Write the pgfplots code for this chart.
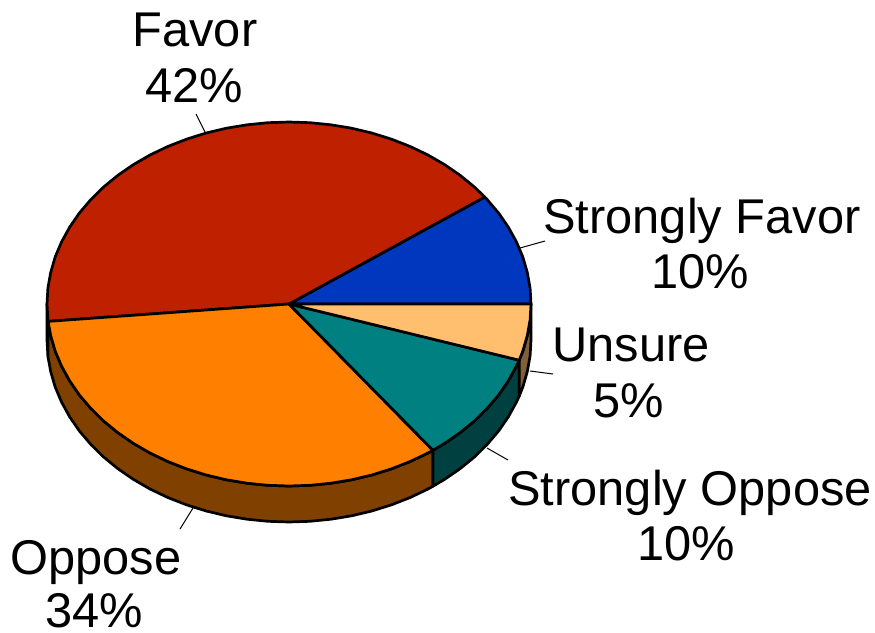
\documentclass[border=0pt]{standalone}
\usepackage{pgfplots}
\pgfplotsset{compat=1.18}
\usepackage{fontspec}
\setmainfont{Liberation Sans}
\definecolor{cBlue}{HTML}{0037BF}
\definecolor{cRed}{HTML}{BF2000}
\definecolor{cOrange}{HTML}{FF8000}
\definecolor{cTeal}{HTML}{008080}
\definecolor{cPeach}{HTML}{FFBF6F}
\definecolor{dBrown}{HTML}{804000}
\definecolor{dTeal}{HTML}{004040}
\definecolor{dPeach}{HTML}{806038}
\definecolor{dRed}{HTML}{601000}
\newcommand{\lab}[3]{\node[anchor=base,inner sep=0pt,font=\fontsize{48.8}{56}\selectfont] at (axis cs:#1,#2) {#3};}
\begin{document}
\begin{tikzpicture}
\begin{axis}[
  hide axis, scale only axis, width=875pt, height=632pt,
  xmin=0, xmax=875, ymin=0, ymax=632, y dir=reverse, clip=false,
  every axis plot/.append style={line width=2.7pt, line join=round, mark=none, draw=black}
]
\path (axis cs:0,0) rectangle (axis cs:875,632);
% side walls
\addplot[fill=dRed] coordinates {(47,304)(47.9,319.9)(48.1,321.4)(48.1,357.4)(47.9,355.9)(47,340)} -- cycle;
\addplot[fill=dBrown] coordinates {(48.1,321.4)(50.7,335.6)(55.2,351.1)(61.6,366.2)(69.7,380.9)(79.4,395)(90.8,408.4)(103.6,421)(117.9,432.7)(133.4,443.4)(150.2,453.1)(168,461.6)(186.7,468.9)(206.2,475)(226.4,479.8)(247,483.2)(267.9,485.3)(289,486)(310.1,485.3)(331,483.2)(351.6,479.8)(371.8,475)(391.3,468.9)(410,461.6)(427.8,453.1)(432.9,450.3)(432.9,486.3)(427.8,489.1)(410,497.6)(391.3,504.9)(371.8,511)(351.6,515.8)(331,519.2)(310.1,521.3)(289,522)(267.9,521.3)(247,519.2)(226.4,515.8)(206.2,511)(186.7,504.9)(168,497.6)(150.2,489.1)(133.4,479.4)(117.9,468.7)(103.6,457)(90.8,444.4)(79.4,431)(69.7,416.9)(61.6,402.2)(55.2,387.1)(50.7,371.6)(48.1,357.4)} -- cycle;
\addplot[fill=dTeal] coordinates {(432.9,450.3)(444.6,443.4)(460.1,432.7)(474.4,421)(487.2,408.4)(498.6,395)(508.3,380.9)(516.4,366.2)(519.2,360.2)(519.2,396.2)(516.4,402.2)(508.3,416.9)(498.6,431)(487.2,444.4)(474.4,457)(460.1,468.7)(444.6,479.4)(432.9,486.3)} -- cycle;
\addplot[fill=dPeach] coordinates {(519.2,360.2)(522.8,351.1)(527.3,335.6)(530.1,319.9)(531,304)(531,340)(530.1,355.9)(527.3,371.6)(522.8,387.1)(519.2,396.2)} -- cycle;
% top faces
\addplot[fill=cBlue] coordinates {(289,304)(531,304)(530.1,288.1)(527.3,272.4)(522.8,256.9)(516.4,241.8)(508.3,227.1)(498.6,213)(487.2,199.6)(484.8,197)} -- cycle;
\addplot[fill=cRed] coordinates {(289,304)(484.8,197)(474.4,187)(460.1,175.3)(444.6,164.6)(427.8,154.9)(410,146.4)(391.3,139.1)(371.8,133)(351.6,128.2)(331,124.8)(310.1,122.7)(289,122)(267.9,122.7)(247,124.8)(226.4,128.2)(206.2,133)(186.7,139.1)(168,146.4)(150.2,154.9)(133.4,164.6)(117.9,175.3)(103.6,187)(90.8,199.6)(79.4,213)(69.7,227.1)(61.6,241.8)(55.2,256.9)(50.7,272.4)(47.9,288.1)(47,304)(47.9,319.9)(48.1,321.4)} -- cycle;
\addplot[fill=cOrange] coordinates {(289,304)(48.1,321.4)(50.7,335.6)(55.2,351.1)(61.6,366.2)(69.7,380.9)(79.4,395)(90.8,408.4)(103.6,421)(117.9,432.7)(133.4,443.4)(150.2,453.1)(168,461.6)(186.7,468.9)(206.2,475)(226.4,479.8)(247,483.2)(267.9,485.3)(289,486)(310.1,485.3)(331,483.2)(351.6,479.8)(371.8,475)(391.3,468.9)(410,461.6)(427.8,453.1)(432.9,450.3)} -- cycle;
\addplot[fill=cTeal] coordinates {(289,304)(432.9,450.3)(444.6,443.4)(460.1,432.7)(474.4,421)(487.2,408.4)(498.6,395)(508.3,380.9)(516.4,366.2)(519.2,360.2)} -- cycle;
\addplot[fill=cPeach] coordinates {(289,304)(519.2,360.2)(522.8,351.1)(527.3,335.6)(530.1,319.9)(531,304)} -- cycle;
% leader lines
\addplot[line width=1pt] coordinates {(196,114)(206,134)};
\addplot[line width=1pt] coordinates {(520,248)(545,241)};
\addplot[line width=1pt] coordinates {(530,371)(553,374)};
\addplot[line width=1pt] coordinates {(487,448)(508,460)};
\addplot[line width=1pt] coordinates {(193,508)(180,529)};
% labels
\lab{195}{46}{Favor}
\lab{194}{102}{42\%}
\lab{702}{233}{Strongly Favor}
\lab{700}{288}{10\%}
\lab{631}{361}{Unsure}
\lab{629}{417}{5\%}
\lab{690}{505}{Strongly Oppose}
\lab{686}{560}{10\%}
\lab{96}{574}{Oppose}
\lab{94}{627}{34\%}
\end{axis}
\end{tikzpicture}
\end{document}
